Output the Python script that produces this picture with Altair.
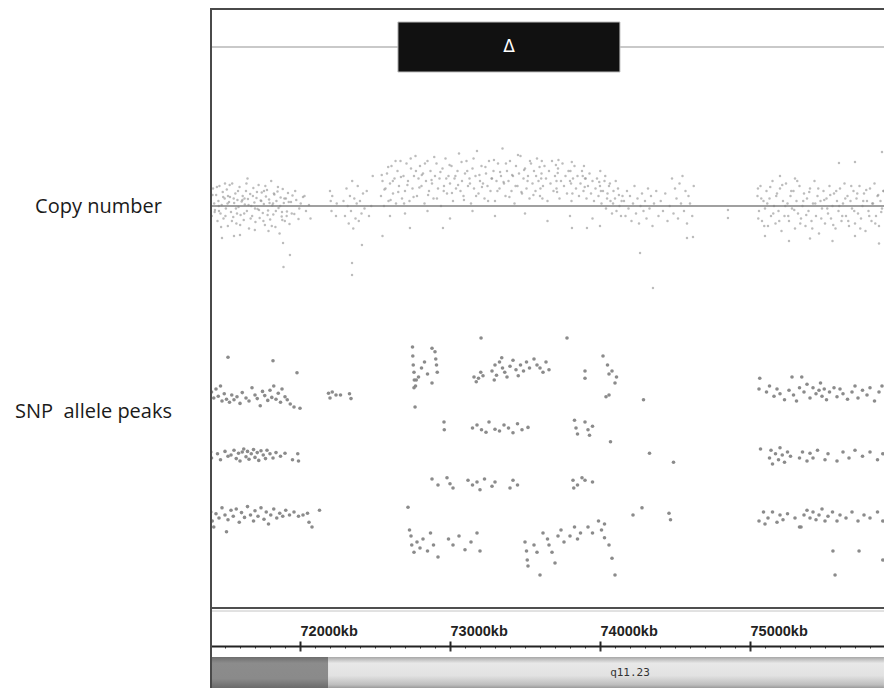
import altair as alt
import pandas as pd

# ---------------- genomic window (kb) ----------------
KB_MIN, KB_MAX = 71400, 75893.3
W, H = 674, 680

# duplication call (top track)
dup_start = [72653]
dup_end = [74133]
dup_label = ["Δ"]

# x-axis tick labels (kb)
major_ticks = [72000, 73000, 74000, 75000]
minor_ticks = list(range(71500, 75900, 100))

# cytoband
band_start = [71400, 72187]
band_end = [72187, 75893]
band_name = ["", "q11.23"]

# ---------------- copy number (log2 ratio) ----------------
cn_left = [(71405,0.12),(71412,-0.20),(71420,0.35),(71428,0.05),(71433,-0.08),(71441,0.22),(71450,-0.30),(71456,0.10),(71463,0.40),(71470,-0.15),(71478,0.02),(71485,0.28),(71490,-0.25),(71498,0.15),(71506,-0.05),(71512,0.33),(71519,-0.40),(71527,0.08),(71533,0.18),(71540,-0.12),(71548,0.45),(71555,-0.22),(71561,0.06),(71569,0.25),(71576,-0.35),(71583,0.12),(71590,-0.02),(71597,0.38),(71604,-0.18),(71611,0.09),(71618,0.20),(71625,-0.28),(71632,0.03),(71640,0.30),(71646,-0.10),(71653,0.14),(71660,-0.45),(71668,0.24),(71675,0.00),(71681,-0.20),(71689,0.36),(71696,0.07),(71703,-0.32),(71710,0.16),(71717,-0.06),(71724,0.42),(71731,-0.24),(71738,0.11),(71745,0.27),(71752,-0.14),(71759,0.04),(71766,-0.38),(71773,0.19),(71780,0.32),(71787,-0.09),(71794,0.13),(71801,-0.27),(71808,0.50),(71815,0.01),(71822,-0.17),(71829,0.23),(71836,-0.42),(71843,0.10),(71850,0.29),(71857,-0.04),(71864,-0.55),(71871,0.17),(71878,-0.21),(71885,0.34),(71892,0.06),(71899,-0.30),(71906,0.15),(71913,-0.11),(71920,0.26),(71930,-0.36),(71940,0.08),(71950,0.21),(71962,-0.16),(71975,0.12),(71990,-0.26),(72005,0.05),(72020,0.18),(72040,-0.10),(72060,0.02),
           (71460,-0.1),(71520,0.2),(71580,-0.15),(71630,0.15),(71700,-0.05),(71760,0.3),(71820,0.05),(71880,-0.12),(71500,0.45),(71650,0.55),(71790,-0.5),(71560,-0.6),
           (71480,-0.64),(71600,-0.58),(71887,-0.74),(71933,-0.98),(71890,-1.22)]
cn_left_extra = [(71403,-0.3),(71417,0.22),(71431,-0.12),(71446,0.38),(71459,0.0),(71474,-0.42),(71488,0.18),(71503,-0.2),(71517,0.05),(71531,0.42),(71546,-0.3),(71558,0.15),(71573,-0.05),(71587,0.3),(71601,-0.38),(71616,0.12),(71628,-0.15),(71643,0.45),(71657,0.02),(71671,-0.25),(71686,0.2),(71699,-0.48),(71713,0.28),(71727,-0.08),(71742,0.1),(71756,-0.3),(71769,0.4),(71784,-0.18),(71797,0.06),(71812,-0.4),(71826,0.25),(71839,-0.1),(71853,0.38),(71868,0.0),(71882,-0.28),(71896,0.15),(71911,-0.2),(71925,0.08),(71945,-0.15),(71968,0.3),(71995,-0.05),(72030,0.2),(72070,-0.25)]
cn_gap1 = [(72200,0.3),(72205,0.1),(72210,-0.1),(72215,0.2),(72240,-0.2),(72245,0.05),
           (72290,0.1),(72300,-0.2),(72310,0.35),(72318,0.0),(72325,-0.35),(72333,0.2),(72340,-0.1),(72348,0.5),(72355,-0.45),(72362,0.15),(72370,-0.25),(72378,0.05),(72385,0.4),(72392,-0.3),(72400,0.1),(72410,-0.15),(72420,0.25),(72430,-0.05),(72445,0.3),(72460,-0.2),(72475,0.0),(72485,0.6),
           (72347,-1.14),(72347,-1.38),(72413,-0.78)]
cn_dup = [(72540,0.2),(72550,0.5),(72560,0.0),(72570,0.35),(72580,0.65),(72590,0.1),(72600,0.45),(72610,0.8),(72620,0.25),(72630,0.55),(72640,0.05),(72650,0.7),(72660,0.4),(72670,0.9),(72680,0.15),(72690,0.6),(72700,0.3),(72710,0.85),(72720,0.5),(72730,0.1),(72740,0.75),(72750,0.35),(72760,0.6),(72770,1.0),(72780,0.2),(72790,0.55),(72800,0.8),(72810,0.4),(72820,0.65),(72830,0.05),(72840,0.5),(72850,0.9),(72860,0.3),(72870,0.7),(72880,0.45),(72890,0.15),(72900,0.6),(72910,0.85),(72920,0.35),(72930,0.55),(72940,0.0),(72950,0.75),(72960,0.4),(72970,0.95),(72980,0.25),(72990,0.6),(73000,0.45),(73010,0.8),(73020,0.1),(73030,0.55),(73040,0.35),(73050,0.7),(73060,1.05),(73070,0.3),(73080,0.5),(73090,0.2),(73100,0.65),(73110,0.9),(73120,0.4),(73130,0.55),(73140,0.05),(73150,0.75),(73160,0.35),(73170,0.6),(73180,1.1),(73190,0.25),(73200,0.5),(73210,0.8),(73220,0.45),(73230,0.15),(73240,0.65),(73250,0.4),(73260,0.9),(73270,0.3),(73280,0.55),(73290,0.7),(73300,0.1),(73310,0.5),(73320,0.85),(73330,0.35),(73340,0.6),(73350,1.15),(73360,0.45),(73370,0.2),(73380,0.7),(73390,0.5),(73400,0.9),(73410,0.3),(73420,0.6),(73430,0.05),(73440,0.8),(73450,0.4),(73460,0.65),(73470,1.0),(73480,0.25),(73490,0.55),(73500,0.75),(73510,0.35),(73520,0.6),(73530,0.15),(73540,0.85),(73550,0.45),(73560,0.7),(73570,0.3),(73580,0.95),(73590,0.5),(73600,0.2),(73610,0.65),(73620,0.4),(73630,0.8),(73640,0.55),(73650,0.1),(73660,0.7),(73670,0.45),(73680,0.9),(73690,0.3),(73700,0.6),(73710,0.35),(73720,0.75),(73730,0.15),(73740,0.5),(73750,0.85),(73760,0.4),(73770,0.6),(73780,0.25),(73790,0.7),(73800,0.5),(73810,0.1),(73820,0.55),(73830,0.8),(73840,0.35),(73850,0.6),(73860,0.2),(73870,0.45),(73880,0.7),(73890,0.3),(73900,0.55),(73910,0.15),(73920,0.4),(73930,0.65),(73940,0.25),(73950,0.5),(73960,0.1),(73970,0.35),(73980,0.55),(73990,0.2),(74000,0.4),(74010,0.05),(74020,0.3),(74030,0.5),(74040,-0.05),(74050,0.25),(74060,0.4),(74070,0.1),(74080,-0.15),(74090,0.3),(74100,0.15),(74110,-0.1),(74120,0.35),(74130,0.0),(74140,-0.2),(74150,0.2),
          (72600,-0.2),(72700,-0.15),(72850,-0.1),(73000,-0.25),(73150,-0.1),(73300,-0.2),(73500,-0.15),(73650,-0.3),(73800,-0.2),(73950,-0.25),(74000,-0.4),
          (72733,-0.44),(72953,-0.44),(72550,-0.6),(73813,-0.44),(73913,-0.44)]
cn_dup_extra = [(72545,0.62),(72563,0.33),(72588,0.78),(72604,0.12),(72619,0.5),(72637,0.9),(72655,0.28),(72673,0.58),(72694,0.05),(72716,0.42),(72738,0.95),(72757,0.18),(72773,0.7),(72796,0.37),(72812,0.62),(72833,0.85),(72854,0.22),(72877,0.52),(72895,0.98),(72913,0.15),(72936,0.68),(72958,0.3),(72975,0.55),(72997,0.82),(73013,0.26),(73036,0.6),(73054,0.42),(73077,0.88),(73093,0.12),(73115,0.7),(73133,0.45),(73157,0.95),(73174,0.2),(73196,0.62),(73213,0.38),(73236,0.78),(73254,0.1),(73277,0.55),(73293,0.92),(73316,0.3),(73334,0.68),(73357,0.48),(73373,0.85),(73396,0.18),(73414,0.62),(73437,0.4),(73453,1.02),(73476,0.28),(73494,0.72),(73517,0.5),(73533,0.9),(73556,0.22),(73574,0.6),(73597,0.78),(73603,0.35),(73608,0.55),(73612,0.9),(73616,0.15),(73706,0.82),(73710,0.5),(73714,0.28),(73718,0.66),(73723,0.92),(73803,0.7),(73807,0.45),(73812,0.88),(73816,0.25),(73885,0.6),(73893,0.8),(73898,0.38),(73905,0.55),(73995,0.48),(74002,0.7),(74006,0.3),(74035,0.6),(74047,0.15),(74066,0.45),(74087,0.05),(74105,0.5),(74126,0.22),(74144,0.1)]
cn_mid = [(74160,0.1),(74170,-0.2),(74180,0.3),(74190,-0.05),(74200,0.2),(74210,-0.3),(74220,0.05),(74230,0.4),(74240,-0.15),(74250,0.15),(74260,-0.35),(74270,0.0),(74280,0.25),(74290,-0.1),(74300,0.1),(74310,-0.25),(74320,0.35),(74330,-0.05),(74340,0.2),(74350,-0.4),(74360,0.05),(74375,0.3),(74390,-0.2),(74405,0.1),(74420,-0.1),(74435,0.25),(74450,-0.3),(74465,0.0),(74480,0.55),(74490,-0.15),(74500,0.35),(74510,0.15),(74520,-0.25),(74530,0.45),(74540,0.05),(74550,0.6),(74560,-0.1),(74570,0.3),(74580,-0.35),(74590,0.2),(74600,0.05),(74615,-0.2),(74625,0.4),
          (74267,-0.94),(74353,-1.64),(74580,-0.64),(74620,-0.62),(74853,-0.08),(74853,-0.24)]
cn_right = [(75050,0.2),(75060,-0.1),(75070,0.4),(75080,-0.3),(75090,0.1),(75100,-0.05),(75110,0.3),(75120,-0.4),(75130,0.15),(75140,-0.2),(75150,0.5),(75160,0.0),(75170,-0.35),(75180,0.25),(75190,-0.1),(75200,0.35),(75210,-0.5),(75220,0.1),(75230,-0.2),(75240,0.45),(75250,0.05),(75260,-0.3),(75270,0.2),(75280,-0.05),(75290,0.3),(75300,-0.45),(75310,0.1),(75320,-0.15),(75330,0.4),(75340,-0.25),(75350,0.0),(75360,0.25),(75370,-0.4),(75380,0.15),(75390,-0.1),(75400,0.35),(75410,-0.3),(75420,0.05),(75430,0.5),(75440,-0.2),(75450,0.2),(75460,-0.55),(75470,0.1),(75480,-0.05),(75490,0.3),(75500,-0.35),(75510,0.15),(75520,-0.15),(75530,0.4),(75540,-0.25),(75550,0.0),(75560,0.25),(75570,-0.45),(75580,0.1),(75590,-0.1),(75600,0.35),(75610,-0.3),(75620,0.05),(75630,0.45),(75640,-0.2),(75650,0.2),(75660,-0.4),(75670,0.1),(75680,-0.05),(75690,0.3),(75700,-0.35),(75710,0.15),(75720,-0.15),(75730,0.4),(75740,-0.25),(75750,0.0),(75760,0.25),(75770,-0.5),(75780,0.1),(75790,-0.1),(75800,0.35),(75810,-0.3),(75820,0.05),(75830,0.45),(75840,-0.2),(75850,0.2),(75860,-0.4),(75870,0.1),(75880,-0.05),(75890,0.3),
            (75053,0.35),(75200,0.6),(75300,0.55),(75593,0.86),(75700,0.88),(75880,1.08),(75260,-0.7),(75400,-0.65),(75550,-0.7),(75700,-0.6),(75860,-0.75),(75100,-0.6)]
cn_right_extra = [(75055,-0.25),(75075,0.15),(75095,-0.4),(75115,0.05),(75135,0.38),(75155,-0.15),(75175,0.2),(75195,-0.3),(75215,0.42),(75235,0.0),(75255,-0.2),(75275,0.3),(75295,-0.08),(75315,0.5),(75335,-0.35),(75355,0.1),(75375,-0.18),(75395,0.28),(75415,-0.45),(75435,0.05),(75455,0.35),(75475,-0.25),(75495,0.12),(75515,-0.05),(75535,0.22),(75555,-0.38),(75575,0.3),(75595,0.0),(75615,-0.2),(75635,0.15),(75655,-0.3),(75675,0.4),(75695,-0.1),(75715,0.25),(75735,-0.45),(75755,0.1),(75775,0.32),(75795,-0.2),(75815,0.05),(75835,-0.35),(75855,0.22),(75875,-0.12),(75890,0.3)]

# ---------------- SNP allele peaks ----------------
snp_left = [(71410,1.05),(71425,0.95),(71440,1.10),(71455,0.98),(71470,1.15),(71480,0.90),(71495,1.02),(71510,0.93),(71530,0.88),(71545,1.00),(71560,0.92),(71580,0.97),(71600,0.86),(71615,1.04),(71640,0.95),(71660,0.90),(71680,1.12),(71700,1.00),(71715,0.94),(71735,0.82),(71750,1.06),(71765,0.99),(71785,0.91),(71800,1.08),(71812,0.96),(71825,1.15),(71840,0.93),(71855,1.03),(71870,0.88),(71880,1.10),(71900,0.97),(71915,0.92),(71935,0.85),(71960,0.80),(72000,0.78),
            (72190,1.03),(72200,0.95),(72215,1.05),(72240,1.0),(72270,1.0),(72330,1.02),(72340,0.94),
            (71520,1.63),(71820,1.57),(71980,1.37),
            (71405,0.05),(71410,-0.05),(71450,0.02),(71470,-0.08),(71500,0.06),(71520,-0.02),(71540,0.0),(71560,0.08),(71575,-0.06),(71590,0.03),(71600,-0.1),(71615,0.05),(71625,0.1),(71640,-0.03),(71650,0.06),(71660,-0.07),(71675,0.02),(71690,0.09),(71700,-0.04),(71715,0.04),(71725,-0.09),(71740,0.07),(71755,0.0),(71770,-0.06),(71780,0.08),(71800,0.02),(71820,-0.05),(71840,0.04),(71870,-0.02),(71900,0.03),(71950,-0.08),(71985,0.02),(71990,-0.1),
            (71405,-0.95),(71415,-1.1),(71425,-1.2),(71440,-0.98),(71460,-1.05),(71480,-0.88),(71500,-1.0),(71520,-1.08),(71540,-0.92),(71555,-1.02),(71575,-0.9),(71595,-1.12),(71610,-0.96),(71630,-1.04),(71650,-0.86),(71670,-1.0),(71690,-1.1),(71700,-0.93),(71720,-1.02),(71740,-0.88),(71760,-1.07),(71775,-0.95),(71790,-1.15),(71805,-1.0),(71825,-0.9),(71845,-1.05),(71865,-0.97),(71885,-1.02),(71905,-0.92),(71930,-1.0),(71960,-0.95),(71990,-1.02),(72020,-1.0),(72050,-0.97),(72060,-1.12),(72080,-1.2),(72130,-0.92),(71510,-1.28)]
snp_dup = [(72750,1.8),(72752,1.65),(72755,1.5),(72760,1.38),(72762,1.25),(72770,1.15),(72790,1.3),(72810,1.45),(72830,1.55),(72850,1.35),(72880,1.78),(72900,1.72),(72905,1.6),(72910,1.5),(72915,1.38),(72880,1.2),(72760,1.12),(72775,1.25),
           (72767,0.8),(73207,1.95),
           (73160,1.3),(73175,1.22),(73190,1.28),(73205,1.38),(73220,1.32),(73280,1.4),(73295,1.25),(73300,1.5),(73310,1.33),(73330,1.55),(73345,1.62),(73350,1.45),(73365,1.38),(73380,1.3),(73400,1.48),(73420,1.58),(73440,1.42),(73455,1.32),(73470,1.5),(73490,1.4),(73510,1.55),(73530,1.45),(73560,1.6),(73580,1.5),(73600,1.45),(73620,1.38),(73640,1.55),(73660,1.42),
           (73780,1.95),(73900,1.4),(73900,1.28),(74020,1.65),(74050,1.5),(74060,1.35),(74080,1.4),(74100,1.2),(74110,1.3),(74060,1.0),(74040,0.97),(74290,0.92),
           (72960,0.55),(72962,0.42),(73150,0.45),(73180,0.5),(73210,0.42),(73240,0.38),(73260,0.55),(73300,0.43),(73330,0.4),(73360,0.5),(73390,0.45),(73420,0.37),(73450,0.52),(73480,0.42),(73520,0.46),(73830,0.58),(73840,0.45),(73850,0.35),(73900,0.55),(73920,0.42),(73930,0.33),(73950,0.48),(74070,0.22),(74330,0.03),(74490,-0.12),
           (72880,-0.4),(72920,-0.5),(72980,-0.38),(73000,-0.48),(73020,-0.55),(73120,-0.42),(73150,-0.5),(73180,-0.45),(73200,-0.58),(73230,-0.4),(73280,-0.52),(73300,-0.45),(73400,-0.55),(73420,-0.42),(73450,-0.5),(73820,-0.42),(73825,-0.55),(73850,-0.5),(73880,-0.38),(73900,-0.42),(73950,-0.45),
           (72720,-0.87),(72730,-1.25),(72740,-1.35),(72745,-1.5),(72760,-1.62),(72780,-1.45),(72800,-1.55),(72820,-1.4),(72850,-1.6),(72870,-1.3),(72890,-1.5),(72920,-1.7),(72990,-1.4),(73020,-1.5),(73060,-1.35),(73100,-1.58),(73140,-1.45),(73180,-1.3),(73200,-1.6),(73500,-1.45),(73510,-1.6),(73515,-1.75),(73520,-1.85),(73620,-1.3),(73650,-1.4),(73660,-1.5),(73680,-1.62),(73700,-1.8),(73720,-1.35),(73740,-1.25),(73760,-1.45),(73800,-1.35),(73830,-1.2),(73850,-1.4),(73870,-1.3),(73920,-1.2),(73950,-1.3),(73990,-1.1),(74010,-1.25),(74030,-1.38),(74060,-1.5),(74080,-1.72),(74100,-2.0),(74030,-1.15),(74220,-1.0),(74280,-0.88),(74460,-0.97),(74470,-1.08),(73600,-2.0),(73560,-1.5),(73580,-1.62)]
snp_right = [(75060,1.1),(75065,1.28),(75110,1.05),(75130,1.15),(75160,0.98),(75180,1.1),(75200,1.02),(75230,0.92),(75260,1.08),(75280,1.3),(75290,1.0),(75310,0.9),(75330,1.12),(75345,1.3),(75360,1.05),(75380,1.18),(75400,0.95),(75420,1.12),(75440,1.02),(75460,1.08),(75470,1.2),(75480,0.98),(75495,1.1),(75510,0.92),(75530,1.05),(75560,1.12),(75580,0.97),(75600,1.1),(75620,1.02),(75650,0.93),(75680,1.05),(75700,1.15),(75720,0.95),(75750,1.08),(75780,1.0),(75800,1.12),(75830,0.9),(75860,1.05),(75880,1.15),
             (75070,0.1),(75130,-0.05),(75140,0.08),(75150,-0.15),(75170,0.02),(75190,-0.08),(75200,0.12),(75215,0.0),(75230,-0.12),(75250,0.05),(75270,-0.02),(75330,-0.05),(75350,0.05),(75380,-0.1),(75400,0.03),(75420,-0.05),(75450,0.08),(75500,-0.08),(75520,0.02),(75580,-0.1),(75620,0.05),(75660,-0.05),(75700,0.08),(75750,-0.02),(75800,0.05),(75850,-0.08),(75885,0.02),
             (75060,-1.1),(75090,-0.95),(75100,-1.15),(75120,-1.05),(75150,-0.95),(75180,-1.12),(75200,-1.0),(75220,-1.08),(75250,-0.98),(75300,-1.05),(75330,-1.2),(75340,-1.2),(75360,-1.0),(75380,-0.92),(75400,-1.05),(75420,-0.95),(75440,-1.08),(75460,-1.0),(75480,-0.9),(75500,-1.1),(75520,-1.02),(75550,-0.95),(75580,-1.1),(75600,-1.0),(75640,-1.05),(75680,-0.95),(75720,-1.1),(75760,-1.0),(75800,-1.05),(75850,-0.95),(75885,-1.1),
             (75553,-1.6),(75727,-1.6),(75567,-2.0),(75885,-1.75)]

# ---------------- tables ----------------
cn_df = pd.DataFrame(cn_left + cn_left_extra + cn_gap1 + cn_dup + cn_dup_extra + cn_mid + cn_right + cn_right_extra,
                     columns=["kb", "log2"])
snp_df = pd.DataFrame(snp_left + snp_dup + snp_right, columns=["kb", "peak"])
dup_df = pd.DataFrame({"start": dup_start, "end": dup_end, "label": dup_label})
band_df = pd.DataFrame({"start": band_start, "end": band_end, "name": band_name})
one = pd.DataFrame({"a": [0]})

xs = alt.Scale(domain=[KB_MIN, KB_MAX], nice=False, zero=False)
cn_scale = alt.Scale(domain=[-9.64, 3.96], nice=False, zero=False)
snp_scale = alt.Scale(domain=[-3.883, 7.45], nice=False, zero=False)

LABEL_FONT = "Open Sans"
TICK_FONT = "Liberation Sans"

# top track
track_line = alt.Chart(one).mark_rule(color="#c9c9c9", strokeWidth=2).encode(
    x=alt.value(0), x2=alt.value(W), y=alt.value(39))
dup_box = alt.Chart(dup_df).mark_rect(color="#111111", stroke="#bdbdbd", strokeWidth=1).encode(
    x=alt.X("start:Q", scale=xs, axis=None), x2="end:Q",
    y=alt.value(14), y2=alt.value(64))
dup_text = alt.Chart(dup_df).transform_calculate(mid="(datum.start + datum.end) / 2").mark_text(
    color="white", fontSize=17, font="DejaVu Sans", baseline="middle").encode(
    x=alt.X("mid:Q", scale=xs, axis=None), y=alt.value(39), text="label:N")

# copy number
cn_points = alt.Chart(cn_df).mark_circle(size=6, color="#8f8f8f", opacity=0.6, clip=True).encode(
    x=alt.X("kb:Q", scale=xs, axis=alt.Axis(
        orient="bottom", offset=-42, values=minor_ticks, labels=False, domain=False, grid=False,
        tickColor="#333333", tickWidth={"condition": {"test": "datum.value % 1000 === 0", "value": 2}, "value": 1},
        tickSize={"condition": {"test": "datum.value % 1000 === 0", "value": 5}, "value": 2},
        title=None)),
    y=alt.Y("log2:Q", scale=cn_scale, axis=alt.Axis(
        orient="left", values=[0], labelExpr="'Copy number'", domain=False, ticks=False, tickSize=0,
        grid=False, labelAlign="center", labelBaseline="middle", labelPadding=112,
        labelFont=LABEL_FONT, labelFontSize=20, labelColor="#1a1a1a", labelLimit=400, title=None)))
cn_line = alt.Chart(pd.DataFrame({"v": [0]})).mark_rule(color="#808080", strokeWidth=1.6).encode(
    y=alt.Y("v:Q", scale=cn_scale, axis=None))

# SNP allele peaks
snp_points = alt.Chart(snp_df).mark_circle(size=13, color="#858585", opacity=0.95, clip=True).encode(
    x=alt.X("kb:Q", scale=xs, axis=alt.Axis(
        orient="top", offset=-638, values=major_ticks, labelExpr="datum.value + 'kb'",
        labelAlign="left", labelFont=TICK_FONT, labelFontSize=14.5, labelFontWeight="bold",
        labelColor="#222222", labelPadding=3, labelFlush=False, labelOverlap=False,
        tickSize=5, tickWidth=2, tickColor="#222222", domain=True, domainColor="#222222",
        domainWidth=2, grid=False, title=None)),
    y=alt.Y("peak:Q", scale=snp_scale, axis=alt.Axis(
        orient="left", values=[0.72], labelExpr="'SNP\u00a0 allele peaks'", domain=False, ticks=False, tickSize=0,
        grid=False, labelAlign="center", labelBaseline="middle", labelPadding=117,
        labelFont=LABEL_FONT, labelFontSize=20, labelColor="#1a1a1a", labelLimit=400, title=None)))

# cytoband ideogram
grad_light = {"gradient": "linear", "x1": 0, "y1": 0, "x2": 0, "y2": 1,
              "stops": [{"offset": 0, "color": "#a8a8a8"}, {"offset": 0.2, "color": "#e8e8e8"},
                        {"offset": 0.6, "color": "#e2e2e2"}, {"offset": 0.9, "color": "#bdbdbd"},
                        {"offset": 1, "color": "#9a9a9a"}]}
grad_dark = {"gradient": "linear", "x1": 0, "y1": 0, "x2": 0, "y2": 1,
             "stops": [{"offset": 0, "color": "#6e6e6e"}, {"offset": 0.2, "color": "#8c8c8c"},
                       {"offset": 0.7, "color": "#8a8a8a"}, {"offset": 1, "color": "#6a6a6a"}]}
band_dark = alt.Chart(band_df).transform_filter("datum.name == ''").mark_rect(color=grad_dark).encode(
    x=alt.X("start:Q", scale=xs, axis=None), x2="end:Q", y=alt.value(649), y2=alt.value(680))
band_light = alt.Chart(band_df).transform_filter("datum.name != ''").mark_rect(color=grad_light).encode(
    x=alt.X("start:Q", scale=xs, axis=None), x2="end:Q", y=alt.value(649), y2=alt.value(680))
band_text = alt.Chart(band_df).transform_filter("datum.name != ''").transform_calculate(
    pos="74200").mark_text(font="DejaVu Sans Mono", fontSize=11, color="#333333", baseline="middle").encode(
    x=alt.X("pos:Q", scale=xs, axis=None), y=alt.value(665), text="name:N")

# frame and separators
frame_left = alt.Chart(one).mark_rule(color="#4a4a4a", strokeWidth=2).encode(
    x=alt.value(1), y=alt.value(0), y2=alt.value(H))
frame_top = alt.Chart(one).mark_rule(color="#4a4a4a", strokeWidth=2).encode(
    x=alt.value(0), x2=alt.value(W), y=alt.value(1))
sep_main = alt.Chart(one).mark_rule(color="#4f4f4f", strokeWidth=2).encode(
    x=alt.value(0), x2=alt.value(W), y=alt.value(600))
sep_light = alt.Chart(one).mark_rule(color="#c4c4c4", strokeWidth=1).encode(
    x=alt.value(0), x2=alt.value(W), y=alt.value(603))

chart = alt.layer(
    track_line, dup_box, dup_text,
    cn_points, cn_line, snp_points,
    band_light, band_dark, band_text,
    sep_main, sep_light, frame_left, frame_top,
).resolve_scale(x="independent", y="independent").resolve_axis(
    x="independent", y="independent"
).properties(
    width=W, height=H,
    autosize=alt.AutoSizeParams(type="none"),
    padding={"left": 202, "right": 0, "top": 0, "bottom": 0},
    background="white",
).configure_view(strokeWidth=0)

chart.save("out.html", embed_options={"renderer": "svg", "actions": False})
